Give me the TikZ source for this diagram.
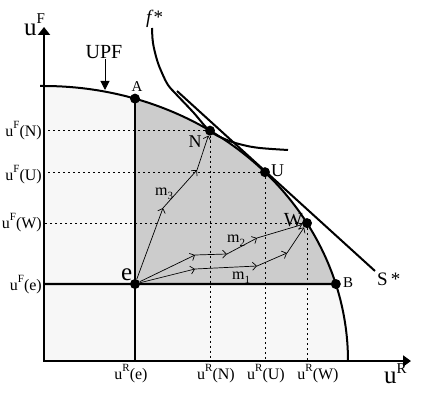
\documentclass[tikz,border=0pt]{standalone}
\usepackage{fontspec}
\setmainfont{Liberation Serif}
\usetikzlibrary{arrows.meta}
\newcommand\fs[1]{\fontsize{#1}{#1}\selectfont}
\newcommand\ulab[2]{{\fs{16}u\raisebox{8pt}{\fs{11}#1}(#2)}}
\newcommand\mlab[1]{{\fs{16}m}\raisebox{-4pt}{\fs{11}#1}}
\definecolor{lightfill}{gray}{0.97}
\definecolor{darkfill}{gray}{0.8}
\begin{document}
\begin{tikzpicture}[x=1pt,y=-1pt,
  axisline/.style={line width=2.4pt},
  thickline/.style={line width=2.4pt},
  curve/.style={line width=2pt},
  dotline/.style={line width=0.9pt, dash pattern=on 2pt off 3pt},
  flow/.style={line width=0.7pt, -{Straight Barb[length=4pt,width=8pt]}},
  dot/.style={circle, fill=black, inner sep=0pt, minimum size=10pt},
  lbl/.style={inner sep=0pt},
]
\useasboundingbox (0,0) rectangle (422,398);

% fills
\fill[lightfill] (44,361) -- plot[domain=90:0,samples=90] ({44+304*cos(\x)},{361-275*sin(\x)}) -- cycle;
\fill[darkfill] (135,284) -- plot[domain=72.58:16.26,samples=70] ({44+304*cos(\x)},{361-275*sin(\x)}) -- cycle;

% points
\coordinate (O) at (44,361);
\coordinate (Ytop) at (44,27);
\coordinate (Xend) at (411,361);
\node[dot] (A) at ({44+304*cos(72.58)},{361-275*sin(72.58)}) {};
\node[dot] (N) at ({44+304*cos(56.9)},{361-275*sin(56.9)}) {};
\node[dot] (U) at ({44+304*cos(43.37)},{361-275*sin(43.37)}) {};
\node[dot] (W) at ({44+304*cos(30.1)},{361-275*sin(30.1)}) {};
\node[dot] (B) at ({44+304*cos(16.26)},{361-275*sin(16.26)}) {};
\node[dot] (e) at (135,284) {};

% dotted guide lines
\foreach \p in {N,U,W}{
  \draw[dotline] (\p.center) -- (\p.center -| O);
  \draw[dotline] (\p.center) -- (\p.center |- O);
}

% thick lines through e
\draw[thickline] (e.center -| O) -- (B.center);
\draw[thickline] (A.center) -- (A.center |- O);

% axes
\draw[axisline, {Triangle[length=8pt,width=12pt]}-{Triangle[length=8pt,width=11pt]}] (Ytop) -- (O) -- (Xend);

% UPF
\draw[curve] (40,86) -- plot[domain=90:0,samples=90] ({44+304*cos(\x)},{361-275*sin(\x)});

% f*
\draw[curve] plot[smooth, tension=0.6] coordinates {(152,28) (153,43) (157,60) (162,73) (168,85) (175,93) (193,112) (210,131) (227,140) (243,145) (260,148) (288,150)};

% S*
\coordinate (S1) at (177,91);
\coordinate (S2) at (375,271);
\draw[curve] (S1) -- (S2);

% flows
\coordinate (m3a) at (163,208);
\coordinate (m3b) at (197,170);
\draw[flow] (e) -- (m3a);
\draw[flow] (m3a) -- (m3b);
\draw[flow] (m3b) -- (N);
\coordinate (m2a) at (195,255);
\coordinate (m2b) at (227,254);
\coordinate (m2c) at (257,238);
\draw[flow] (e) -- (m2a);
\draw[flow] (m2a) -- (m2b);
\draw[flow] (m2b) -- (m2c);
\draw[flow] (m2c) -- (W);
\coordinate (m1a) at (195,269);
\coordinate (m1b) at (257,266);
\coordinate (m1c) at (287,253);
\draw[flow] (e) -- (m1a);
\draw[flow] (m1a) -- (m1b);
\draw[flow] (m1b) -- (m1c);
\draw[flow] (m1c) -- (W);

% UPF label and arrow
\node[lbl, font=\fs{20}] (upf) at (104,52) {UPF};
\coordinate (upftip) at (105,90);
\draw[line width=1pt, -{Triangle[length=9pt,width=9pt]}] (upf.south -| upftip) -- (upftip);

% axis labels
\node[lbl, anchor=base west] (uFax) at (24,36) {{\fs{25}u}\raisebox{12pt}{\fs{15}F}};
\node[lbl, anchor=base west] (uRax) at (384,383) {{\fs{25}u}\raisebox{10pt}{\fs{15}R}};

% tick labels
\node[lbl, anchor=base east] (lFN) at (42,137) {\ulab{F}{N}};
\node[lbl, anchor=base east] (lFU) at (42,180) {\ulab{F}{U}};
\node[lbl, anchor=base east] (lFW) at (42,228) {\ulab{F}{W}};
\node[lbl, anchor=base east] (lFe) at (42,290) {\ulab{F}{e}};
\node[lbl, anchor=base] (lRe) at (131,379) {\ulab{R}{e}};
\node[lbl, anchor=base] (lRN) at (216,379) {\ulab{R}{N}};
\node[lbl, anchor=base] (lRU) at (266,379) {\ulab{R}{U}};
\node[lbl, anchor=base] (lRW) at (318,379) {\ulab{R}{W}};

% point labels
\node[lbl, anchor=base, font=\fs{15}] (lA) at (137,92) {A};
\node[lbl, anchor=base, font=\fs{18}] (lN) at (195,147) {N};
\node[lbl, anchor=base west, font=\fs{18}] (lU) at (271,176) {U};
\node[lbl, anchor=base east, font=\fs{20}] (lW) at (303,226) {W};
\node[lbl, anchor=base west, font=\fs{15}] (lB) at (343,287) {B};
\node[lbl, anchor=base west, font=\fs{25}] (le) at (121,280) {e};
\node[lbl, anchor=base west, font=\fs{19}] (lS) at (377,285) {S\,*};
\node[lbl, anchor=base west, font=\fs{19}] (lf) at (146,24) {\textit{f}*};

% flow labels
\node[lbl, anchor=base west] (lm3) at (155,195) {\mlab{3}};
\node[lbl, anchor=base west] (lm2) at (227,242) {\mlab{2}};
\node[lbl, anchor=base west] (lm1) at (232,279) {\mlab{1}};
\end{tikzpicture}
\end{document}
